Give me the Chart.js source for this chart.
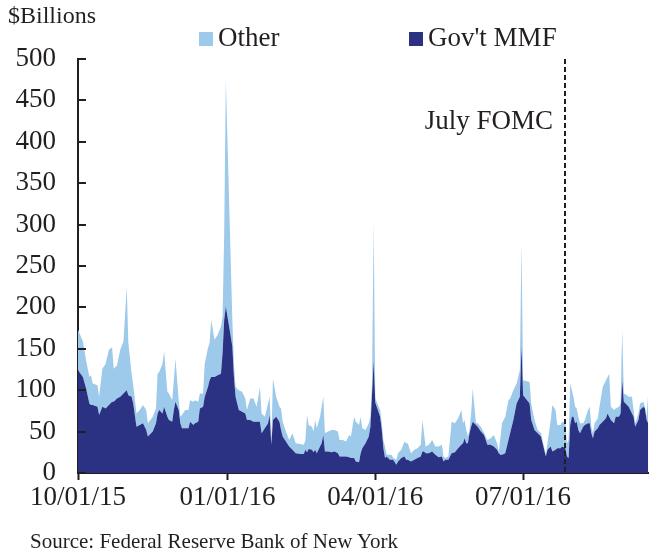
<!DOCTYPE html>
<html><head><meta charset="utf-8">
<script src="https://cdn.jsdelivr.net/npm/chart.js@4.4.1/dist/chart.umd.min.js"></script>
<style>
html,body{margin:0;padding:0;background:#fff;}
#wrap{position:relative;width:649px;height:554px;overflow:hidden;font-family:'Liberation Serif','Times New Roman',serif;color:#231f20;}
#c{position:absolute;left:0;top:0;}
.t{position:absolute;line-height:1;white-space:nowrap;}
.sw{position:absolute;width:14px;height:14px;}
</style></head><body>
<div id="wrap">
<canvas id="c" width="649" height="554"></canvas>
<div class="t" style="left:8px;top:3px;font-size:24px">$Billions</div>
<div class="sw" style="left:199px;top:32px;background:#9DC9EB"></div>
<div class="t" style="left:218px;top:24px;font-size:27px">Other</div>
<div class="sw" style="left:409px;top:32px;background:#2B3183"></div>
<div class="t" style="left:428px;top:24px;font-size:27px">Gov't MMF</div>
<div class="t" style="left:30px;top:531px;font-size:21px">Source: Federal Reserve Bank of New York</div>
</div>
<script>
// Days since 10/01/15
const days = [0,3,5,7,8,9,12,13,15,17,19,21,22,24,26,28,30,31,33,34,36,38,40,42,43,46,48,49,50,52,53,55,56,58,59,60,62,63,64,66,68,69,71,72,74,75,77,78,80,81,82,84,86,88,89,90,91,95,96,97,99,101,103,104,106,108,110,112,113,115,117,118,119,120,122,124,125,126,128,130,132,134,137,139,140,141,142,144,145,146,147,149,150,151,152,154,156,158,160,161,163,165,167,168,170,171,173,174,175,177,179,180,181,182,183,186,187,188,189,190,192,193,194,196,197,199,201,202,203,205,207,209,211,212,213,214,216,218,220,222,224,225,226,228,230,232,234,236,237,238,239,240,241,242,243,245,246,248,250,252,254,256,258,259,260,261,263,265,266,268,270,272,273,274,278,279,281,283,285,288,289,291,292,294,295,297,298,300,301,302,303,304,305,306,307,308,309,311,312,314,315,316,317,318,320,321,323,325,326,327,328,330,331,333,334,335,336,338,339,341,342,343,345,346,348,349,350,351];
// Gov't MMF ($ billions)
const govMMF = [124,116,102,84,82,82,80,70,80,78,82,86,86,90,92,96,100,94,92,84,56,58,60,52,44,50,60,72,76,72,80,68,64,62,76,86,76,60,54,54,54,62,58,60,62,78,80,92,104,112,116,116,118,120,145,185,201,153,116,92,76,74,72,64,64,62,62,62,48,54,60,70,34,64,68,62,52,44,38,32,28,24,23,23,28,25,29,28,25,28,24,32,36,46,26,26,25,26,24,20,20,20,19,18,18,14,13,24,30,36,44,56,95,135,85,68,52,30,18,20,16,16,16,10,14,18,20,16,16,14,16,18,20,26,26,24,24,26,22,19,20,14,16,16,24,25,30,34,36,42,36,36,48,56,62,58,56,50,46,34,34,32,28,24,22,22,24,40,48,64,84,92,153,94,84,64,52,48,44,20,28,32,26,28,30,30,32,30,20,18,58,68,68,60,62,52,48,56,58,60,60,48,42,50,54,58,62,66,72,68,64,60,68,68,72,112,86,82,80,72,68,56,64,76,80,78,64,60];
// Other ($ billions)
const other = [49,43,34,32,36,26,26,22,46,54,67,66,40,40,57,63,125,63,28,22,16,18,22,24,16,18,18,48,46,60,67,30,32,26,36,52,12,8,16,22,22,26,28,28,24,18,16,40,47,45,69,45,49,57,44,105,274,32,16,12,24,24,18,12,26,28,18,42,24,14,24,22,4,50,24,18,26,18,12,8,20,12,12,11,12,45,29,28,25,36,30,36,44,46,22,24,27,26,26,20,20,18,27,26,50,48,45,44,24,16,16,12,15,168,5,8,8,10,14,2,6,6,2,6,10,10,18,20,20,10,12,12,14,38,22,8,10,14,10,13,14,6,2,4,38,35,36,42,24,22,16,8,4,16,40,2,4,6,2,6,8,14,8,2,20,38,44,48,42,36,24,32,125,18,26,20,12,4,4,2,8,32,56,48,28,28,30,30,16,22,50,32,24,20,16,16,12,4,6,16,20,8,6,10,12,22,42,46,44,52,16,16,10,12,12,61,10,12,12,20,8,4,8,8,6,2,4,36];
const tickDays = [0,92,183,274];
const tickLabels = ['10/01/15','01/01/16','04/01/16','07/01/16'];
const yTicks = [0,50,100,150,200,250,300,350,400,450,500];
const fomcDay = 300;
const fomcLabel = 'July FOMC';

const FONT = "'Liberation Serif','Times New Roman',serif";
const INK = '#231f20';

const extras = {
  id:'extras',
  afterDatasetsDraw(chart){
    const {ctx, chartArea:a, scales:{x,y}} = chart;
    ctx.save();
    const fx = Math.round(x.getPixelForValue(fomcDay));
    ctx.strokeStyle = INK; ctx.lineWidth = 2; ctx.setLineDash([5,3]);
    ctx.beginPath(); ctx.moveTo(fx, a.top); ctx.lineTo(fx, a.bottom); ctx.stroke();
    ctx.setLineDash([]);
    ctx.fillStyle = INK; ctx.font = "27px " + FONT; ctx.textAlign = 'right'; ctx.textBaseline = 'alphabetic';
    ctx.fillText(fomcLabel, fx - 12, y.getPixelForValue(425) + 8);
    ctx.lineWidth = 2;
    yTicks.forEach(v => {
      const py = Math.round(y.getPixelForValue(v));
      ctx.beginPath(); ctx.moveTo(a.left, py); ctx.lineTo(a.left + 8, py); ctx.stroke();
    });
    ctx.restore();
  }
};

new Chart(document.getElementById('c'), {
  type:'line',
  data:{
    datasets:[
      {label:"Gov't MMF", data: days.map((d,i)=>({x:d,y:govMMF[i]})), fill:'origin',
       backgroundColor:'#2B3183', borderColor:'#2B3183', borderWidth:0, pointRadius:0, tension:0},
      {label:'Other', data: days.map((d,i)=>({x:d,y:other[i]})), fill:'-1',
       backgroundColor:'#9DC9EB', borderColor:'#9DC9EB', borderWidth:0, pointRadius:0, tension:0}
    ]
  },
  options:{
    responsive:false, animation:false, devicePixelRatio:1, events:[],
    layout:{padding:{top:59,right:0,bottom:0,left:0}},
    plugins:{legend:{display:false}, tooltip:{enabled:false}, title:{display:false}},
    scales:{
      x:{type:'linear', min:0, max:351.5,
        afterBuildTicks: s => { s.ticks = tickDays.map(v=>({value:v})); },
        afterFit: s => { s.height = 81; },
        ticks:{autoSkip:false, maxRotation:0, font:{family:FONT, size:27}, color:INK, padding:2,
          callback: v => tickLabels[tickDays.indexOf(v)]},
        grid:{display:true, drawOnChartArea:false, drawTicks:true, tickLength:7, tickWidth:2, tickColor:INK},
        border:{display:true, color:INK, width:2}
      },
      y:{stacked:true, min:0, max:500,
        afterBuildTicks: s => { s.ticks = yTicks.map(v=>({value:v})); },
        afterFit: s => { s.width = 78; },
        ticks:{font:{family:FONT, size:27}, color:INK, padding:22},
        grid:{display:true, drawOnChartArea:false, drawTicks:false},
        border:{display:true, color:INK, width:2}
      }
    }
  },
  plugins:[extras]
});
</script>
</body></html>
